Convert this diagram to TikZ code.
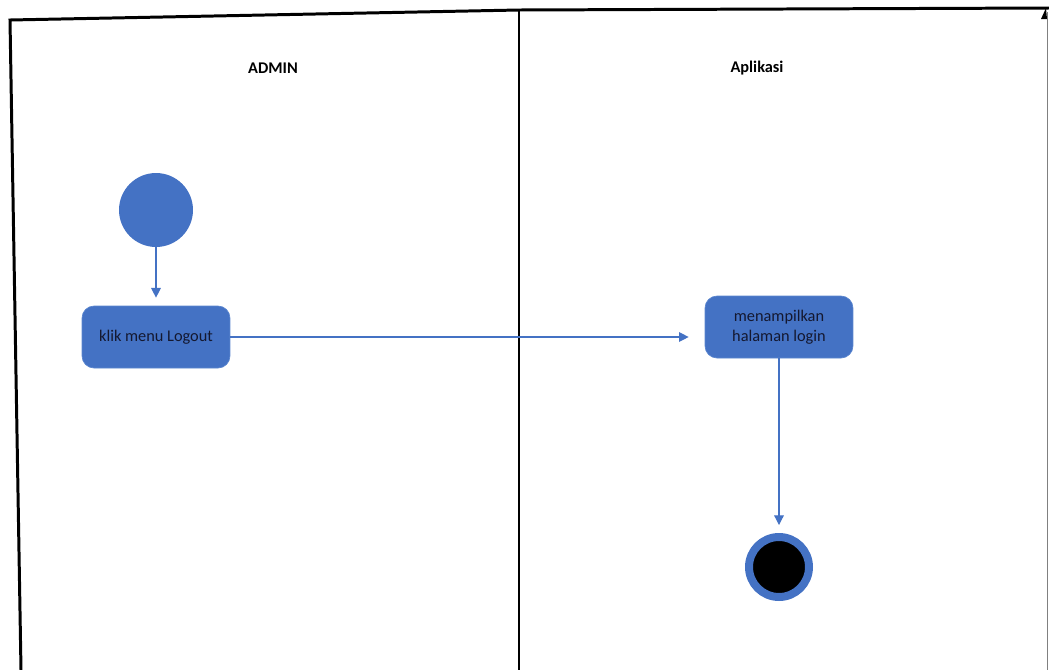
\documentclass[tikz,border=0pt]{standalone}
\usepackage{fontspec}
\setmainfont{Carlito}
\usepackage{tikz}
\usetikzlibrary{shapes, arrows.meta, positioning}
\definecolor{umlblue}{HTML}{4472C4}
\definecolor{umledge}{HTML}{5B86CF}
\definecolor{umltext}{HTML}{141830}
\tikzstyle{action} = [rectangle, rounded corners=0.24cm, minimum width=2.96cm, minimum height=1.24cm, text centered, align=center, draw=umledge, fill=umlblue, text=umltext, font=\fontsize{9.3}{11.6}\selectfont]
\tikzstyle{startnode} = [circle, minimum size=1.48cm, inner sep=0pt, fill=umlblue]
\tikzstyle{endnode} = [circle, minimum size=1.2cm, inner sep=0pt, fill=black, draw=umlblue, line width=0.16cm]
\tikzstyle{lanetitle} = [font=\fontsize{9.3}{11}\selectfont\bfseries]
\tikzstyle{arrow} = [->, >={Triangle[length=5.5pt, width=5.5pt]}, draw=umlblue, line width=0.7pt, shorten >=0.16cm]

\begin{document}
\begin{tikzpicture}[x=0.02cm, y=-0.02cm]
    \useasboundingbox (0, 0) rectangle (1049, 670);

    % swimlanes
    \draw [line width=1.7pt] (21, 670) -- (10, 20) -- (519, 10) -- (1049, 8);
    \draw [line width=1.5pt] (519, 10) -- (519, 670);
    \draw [gray, line width=0.5pt] (1047, 12) -- (1047, 670);
    \fill (1041, 19) -- (1046, 8) -- (1047, 19) -- cycle;

    \node (admin) [lanetitle] at (273, 68) {ADMIN};
    \node (aplikasi) [lanetitle] at (757, 68) {Aplikasi};

    \node (start) [startnode] at (156, 210) {};
    \node (logout) [action] at (156, 337) {klik menu Logout};
    \node (login) [action] at (779, 327) {menampilkan\\halaman login};
    \node (stop) [endnode] at (779, 567) {};

    \draw [arrow] (start) -- (logout);
    \draw [arrow, shorten >=0.32cm] (logout) -- (logout -| login.west);
    \draw [arrow] (login) -- (stop);

\end{tikzpicture}
\end{document}
